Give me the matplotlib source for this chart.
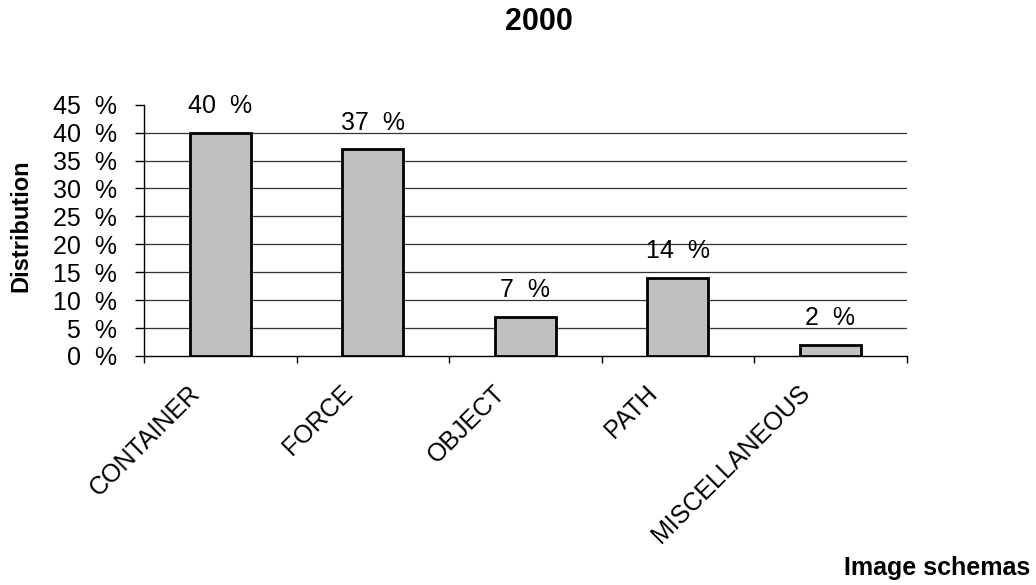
import matplotlib.pyplot as plt
import matplotlib.transforms as mtransforms
import numpy as np

categories = ["CONTAINER", "FORCE", "OBJECT", "PATH", "MISCELLANEOUS"]
values = [40, 37, 7, 14, 2]
yticks = [0, 5, 10, 15, 20, 25, 30, 35, 40, 45]

plt.rcParams['font.family'] = ['Liberation Sans', 'DejaVu Sans']

fig = plt.figure(figsize=(10.36, 5.85), dpi=100)
ax = fig.add_axes([0.139, 0.3915, 0.736, 0.4295])

x = np.arange(len(categories))
ax.bar(x, values, width=0.4, color='#c0c0c0', edgecolor='black', linewidth=2, zorder=3)

for xi, v in zip(x, values):
    ax.annotate(f"{v}  %", (xi, v), xytext=(0, 14), textcoords='offset points',
                ha='center', va='baseline', fontsize=18)

ax.set_xlim(-0.5, len(categories) - 0.5)
ax.set_ylim(0, 45)
ax.set_yticks(yticks)
ax.set_yticklabels([f"{t}  %" for t in yticks], fontsize=18)
for t in yticks[1:-1]:
    ax.axhline(t, color='#333333', linewidth=0.9, zorder=1)

ax.set_xticks(x)
ax.set_xticklabels(categories, rotation=45, ha='right', va='center',
                   rotation_mode='anchor', fontsize=18)
ax.tick_params(axis='x', length=0, pad=24)
shift = mtransforms.ScaledTranslation(-0.24, 0, fig.dpi_scale_trans)
for lab in ax.get_xticklabels():
    lab.set_transform(lab.get_transform() + shift)
ax.set_xticks(np.arange(-0.5, len(categories)), minor=True)
ax.tick_params(axis='x', which='minor', length=5, width=1, direction='out')
ax.tick_params(axis='y', length=6.5, width=1, direction='out', pad=13)

for s in ['top', 'right']:
    ax.spines[s].set_visible(False)
ax.spines['left'].set_linewidth(1)
ax.spines['bottom'].set_linewidth(1)

fig.text(0.0205, 0.614, "Distribution", rotation=90, ha='center', va='center',
         fontsize=17, fontweight='bold')
fig.text(0.52, 0.962, "2000", ha='center', va='center', fontsize=22, fontweight='bold')
fig.text(0.994, 0.029, "Image schemas", ha='right', va='center', fontsize=18, fontweight='bold')

fig.savefig("out.png", dpi=100)
